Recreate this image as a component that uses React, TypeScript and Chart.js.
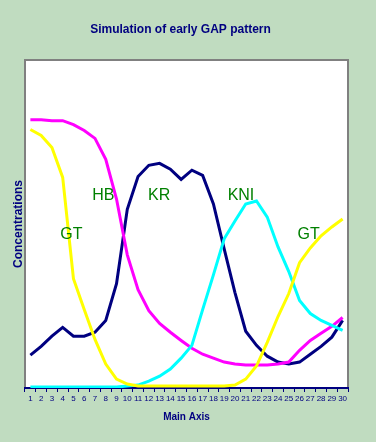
import React, { useEffect, useRef } from 'react';
import { Chart, registerables } from 'chart.js';

Chart.register(...registerables);

const positions: string[] = Array.from({ length: 30 }, (_, i) => String(i + 1));

const hb = [81.8, 81.8, 81.5, 81.5, 80.3, 78.5, 76.1, 69.7, 57.6, 40.6, 30.0, 23.6, 19.7, 17.0, 14.5, 12.1, 10.3, 9.1, 7.9, 7.3, 7.0, 7.0, 7.0, 7.3, 7.9, 11.5, 14.5, 16.7, 18.8, 21.5];
const gt = [78.8, 77.0, 73.3, 64.2, 33.3, 23.9, 14.8, 7.3, 2.7, 1.2, 0.6, 0.6, 0.6, 0.6, 0.6, 0.6, 0.6, 0.6, 0.6, 0.9, 2.7, 6.7, 13.9, 21.8, 28.8, 38.2, 42.7, 46.4, 49.1, 51.5];
const kni = [0.3, 0.3, 0.3, 0.3, 0.3, 0.3, 0.3, 0.3, 0.3, 0.6, 0.9, 2.1, 3.6, 5.8, 9.1, 13.0, 23.9, 34.5, 45.5, 50.9, 56.1, 57.0, 52.1, 43.0, 35.5, 26.7, 22.7, 20.6, 19.1, 17.6];
const kr = [10.0, 12.7, 15.8, 18.5, 15.8, 15.8, 17.0, 20.6, 31.8, 54.5, 64.5, 67.9, 68.5, 66.7, 63.6, 66.4, 64.8, 56.1, 42.4, 29.1, 17.3, 13.0, 9.7, 7.9, 7.3, 7.9, 10.3, 12.7, 15.5, 20.6];

const geneLabels = ['HB', 'KR', 'KNI', 'GT', 'GT'];
const geneLabelX = [6.78, 11.96, 19.56, 3.81, 25.85];
const geneLabelY = [58.8, 58.8, 58.8, 46.7, 46.7];

const SANS = "'Liberation Sans', Arial, sans-serif";
const NAVY = '#000080';

const framePlugin = {
  id: 'frame',
  beforeDraw(chart: any) {
    const { ctx, chartArea: a, width, height } = chart;
    ctx.save();
    ctx.fillStyle = '#c0dcc0';
    ctx.fillRect(0, 0, width, height);
    ctx.fillStyle = '#ffffff';
    ctx.fillRect(a.left, a.top, a.right - a.left, a.bottom - a.top);
    ctx.strokeStyle = '#808080';
    ctx.lineWidth = 2;
    ctx.beginPath();
    ctx.moveTo(a.left, a.bottom);
    ctx.lineTo(a.left, a.top);
    ctx.lineTo(a.right, a.top);
    ctx.lineTo(a.right, a.bottom);
    ctx.stroke();
    ctx.restore();
  },
  afterDatasetsDraw(chart: any) {
    const { ctx } = chart;
    const xs = chart.scales.x;
    const ys = chart.scales.y;
    ctx.save();
    ctx.fillStyle = '#008000';
    ctx.font = `16px ${SANS}`;
    ctx.textAlign = 'center';
    ctx.textBaseline = 'middle';
    geneLabels.forEach((t, i) => {
      ctx.fillText(t, xs.getPixelForValue(geneLabelX[i]), ys.getPixelForValue(geneLabelY[i]));
    });
    ctx.restore();
  },
};

export default function App() {
  const ref = useRef<HTMLCanvasElement | null>(null);
  useEffect(() => {
    document.body.style.margin = '0';
    const line = (data: number[], color: string) => ({
      data,
      borderColor: color,
      backgroundColor: color,
      borderWidth: 3,
      pointRadius: 0,
      tension: 0,
      fill: false,
    });
    const chart = new Chart(ref.current as HTMLCanvasElement, {
      type: 'line',
      data: {
        labels: positions,
        datasets: [
          { label: 'GT', ...line(gt, '#ffff00') },
          { label: 'KNI', ...line(kni, '#00ffff') },
          { label: 'HB', ...line(hb, '#ff00ff') },
          { label: 'KR', ...line(kr, NAVY) },
        ],
      },
      options: {
        animation: false,
        responsive: false,
        layout: { autoPadding: false, padding: { left: 13, right: 28, top: 0, bottom: 18.4 } },
        plugins: {
          legend: { display: false },
          tooltip: { enabled: false },
          title: {
            display: true,
            text: 'Simulation of early GAP pattern',
            color: NAVY,
            font: { family: SANS, size: 12, weight: 'bold', lineHeight: 1.2 },
            padding: { top: 22.8, bottom: 22.8 },
          },
        },
        scales: {
          x: {
            type: 'category',
            offset: true,
            grid: { display: true, drawOnChartArea: false, drawTicks: true, tickLength: 4, color: NAVY, offset: true, lineWidth: 1 },
            border: { display: true, color: NAVY, width: 2 },
            ticks: { color: NAVY, font: { family: SANS, size: 8, lineHeight: 1.2 }, autoSkip: false, maxRotation: 0, minRotation: 0, padding: 2 },
            title: { display: true, text: 'Main Axis', color: NAVY, font: { family: SANS, size: 10, weight: 'bold', lineHeight: 1.2 }, padding: { top: 6, bottom: 0 } },
          },
          y: {
            min: 0,
            max: 100,
            grid: { display: false, drawTicks: false },
            border: { display: false },
            ticks: { display: false },
            title: { display: true, text: 'Concentrations', color: NAVY, font: { family: SANS, size: 12, weight: 'bold', lineHeight: 1 }, padding: { top: 0, bottom: 0 } },
          },
        },
      },
      plugins: [framePlugin],
    });
    return () => chart.destroy();
  }, []);
  return <canvas ref={ref} width={376} height={442} style={{ display: 'block' }} />;
}
